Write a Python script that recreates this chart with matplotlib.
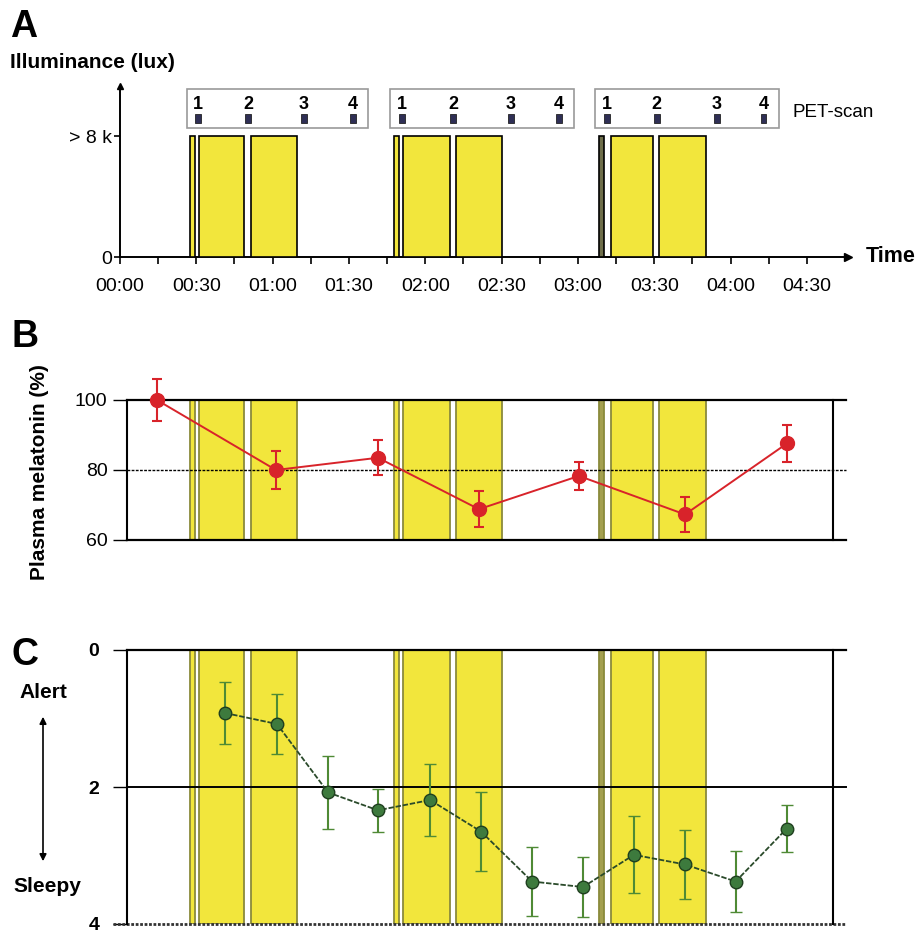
import matplotlib
matplotlib.use("Agg")
import matplotlib.pyplot as plt
from matplotlib.patches import Rectangle
from matplotlib.ticker import MultipleLocator

plt.rcParams['font.family'] = ['Liberation Sans', 'DejaVu Sans']

# ---------------- data ----------------
# light exposure periods (minutes after 00:00)
light_start = [27.5, 31.0, 51.5, 107.7, 111.2, 132.0, 188.3, 193.0, 211.9]
light_end = [29.5, 48.7, 69.6, 109.7, 129.7, 150.2, 190.3, 209.5, 230.3]
light_level = [8, 8, 8, 8, 8, 8, 8, 8, 8]  # > 8 k lux

# PET scans (minutes)
pet_times = [30.7, 50.3, 72.3, 91.6, 110.8, 130.9, 153.7, 172.6, 191.4, 211.0, 234.7, 253.0]
pet_labels = ["1", "2", "3", "4", "1", "2", "3", "4", "1", "2", "3", "4"]
pet_groups = [0, 0, 0, 0, 1, 1, 1, 1, 2, 2, 2, 2]

# x tick labels panel A
time_ticks = [0, 30, 60, 90, 120, 150, 180, 210, 240, 270]
time_labels = ["00:00", "00:30", "01:00", "01:30", "02:00", "02:30",
               "03:00", "03:30", "04:00", "04:30"]
minor_ticks = [15, 45, 75, 105, 135, 165, 195, 225, 255]

# panel B: plasma melatonin (%)
mel_t = [14.5, 61.3, 101.4, 141.1, 180.4, 222.1, 262.2]
mel_v = [100.0, 80.0, 83.5, 68.8, 78.3, 67.3, 87.6]
mel_e = [6.0, 5.5, 5.0, 5.2, 4.0, 5.0, 5.3]

# panel C: sleepiness
slp_t = [41.3, 61.7, 81.8, 101.4, 121.9, 141.9, 162.0, 182.0, 202.0, 222.0, 242.0, 262.0]
slp_v = [0.92, 1.08, 2.08, 2.34, 2.19, 2.65, 3.38, 3.46, 2.99, 3.13, 3.38, 2.61]
slp_e = [0.45, 0.44, 0.53, 0.31, 0.52, 0.58, 0.51, 0.44, 0.56, 0.50, 0.44, 0.34]

# ---------------- style ----------------
W, H = 920, 933
YELLOW = '#f2e63c'
OLIVE = '#8a8a3c'
RED = '#d8232a'
GREEN = '#3d7a3d'
thin_face = [YELLOW, YELLOW, YELLOW, YELLOW, YELLOW, YELLOW, '#6e6e4a', YELLOW, YELLOW]
thin_face_bc = [YELLOW, YELLOW, YELLOW, YELLOW, YELLOW, YELLOW, '#a4a050', YELLOW, YELLOW]

fig = plt.figure(figsize=(W / 100, H / 100), dpi=100)


def rect(left, right, top, bottom):
    return [left / W, 1 - bottom / H, (right - left) / W, (bottom - top) / H]


PXMIN = 2.544  # pixels per minute
x0_px = 120
PXY = 15.125   # pixels per unit in panel A

# ---------------- panel A ----------------
axA = fig.add_axes(rect(120, 848, 86, 257))
ymaxA = (257 - 86) / PXY
axA.set_xlim(0, (848 - 120) / PXMIN)
axA.set_ylim(0, ymaxA)
for s in ['top', 'right']:
    axA.spines[s].set_visible(False)
axA.spines['left'].set_linewidth(1.4)
axA.spines['bottom'].set_linewidth(1.4)
axA.plot(1, 0, '>k', ms=6, transform=axA.get_yaxis_transform(), clip_on=False)
axA.plot(0, 1, '^k', ms=5, transform=axA.get_xaxis_transform(), clip_on=False)

for i, (s, e) in enumerate(zip(light_start, light_end)):
    axA.bar(s, light_level[i], width=e - s, align='edge', facecolor=thin_face[i],
            edgecolor='black', linewidth=1.2, zorder=3)

axA.set_xticks(time_ticks)
axA.set_xticklabels(time_labels)
axA.set_xticks(minor_ticks, minor=True)
axA.tick_params(axis='x', which='both', direction='out', length=5, width=1.2,
                labelsize=14, pad=10)
axA.set_yticks([0, 8])
axA.set_yticklabels(['0', '> 8 k'])
axA.tick_params(axis='y', direction='out', length=4, width=1.2, labelsize=14, pad=2)

# PET boxes
for g in range(3):
    ts = [t for t, gg in zip(pet_times, pet_groups) if gg == g]
    b0 = ts[0] - 4.5
    b1 = ts[-1] + 6.0
    axA.add_patch(Rectangle((b0, (257 - 128) / PXY), b1 - b0, (128 - 89) / PXY,
                            facecolor='white', edgecolor='#9a9a9a', linewidth=1.2,
                            clip_on=False, zorder=4))
for t, lab in zip(pet_times, pet_labels):
    axA.text(t, (257 - 104) / PXY, lab, ha='center', va='center', fontsize=13,
             fontweight='bold', zorder=5, clip_on=False)
    axA.bar(t - 1.1, 0.6, width=2.2, bottom=(257 - 123) / PXY, align='edge',
            facecolor='#2f2f55', edgecolor='#222222', linewidth=0.6, zorder=5,
            clip_on=False)
axA.text((793 - 120) / PXMIN, (257 - 112) / PXY, 'PET-scan', ha='left', va='center',
         fontsize=13.5, clip_on=False)
axA.text((866 - 120) / PXMIN, 0, 'Time', ha='left', va='center', fontsize=15.5,
         fontweight='bold', clip_on=False)

fig.text(10 / W, 1 - 63 / H, 'Illuminance (lux)', ha='left', va='center',
         fontsize=15, fontweight='bold')
fig.text(10 / W, 1 - 27 / H, 'A', ha='left', va='center', fontsize=27, fontweight='bold')


# ---------------- helper for B / C ----------------
def light_spans(ax):
    for i, (s, e) in enumerate(zip(light_start, light_end)):
        ax.axvspan(s, e, facecolor=thin_face_bc[i], edgecolor=OLIVE, linewidth=1.3,
                   zorder=1)


xl = (127 - x0_px) / PXMIN
xr = (833 - x0_px) / PXMIN
x_ext_l = (113 - x0_px) / PXMIN
x_ext_r = (846 - x0_px) / PXMIN

# ---------------- panel B ----------------
axB = fig.add_axes(rect(127, 833, 400, 540))
axB.set_xlim(xl, xr)
axB.set_ylim(60, 100)
for s in ['top', 'bottom']:
    axB.spines[s].set_visible(False)
for s in ['left', 'right']:
    axB.spines[s].set_linewidth(1.5)
axB.set_xticks([])
axB.set_yticks([60, 80, 100])
axB.tick_params(axis='y', direction='out', length=10, width=1.0, labelsize=14, pad=4)
light_spans(axB)
axB.plot([xl, x_ext_r], [100, 100], color='black', lw=1.6, clip_on=False, zorder=2)
axB.plot([xl, x_ext_r], [60, 60], color='black', lw=1.6, clip_on=False, zorder=2)
axB.plot([xl, x_ext_r], [80, 80], color='black', lw=1.0, ls=(0, (2, 1)), clip_on=False,
         zorder=2)
axB.errorbar(mel_t, mel_v, yerr=mel_e, fmt='-o', color=RED, ecolor=RED, ms=10,
             lw=1.4, elinewidth=1.5, capsize=3.5, capthick=1.5, zorder=5, clip_on=False)
fig.text(40 / W, 1 - 472 / H, 'Plasma melatonin (%)', rotation=90, ha='center',
         va='center', fontsize=15, fontweight='bold')
fig.text(12 / W, 1 - 337 / H, 'B', ha='left', va='center', fontsize=27, fontweight='bold')

# ---------------- panel C ----------------
axC = fig.add_axes(rect(127, 833, 650, 924))
axC.set_xlim(xl, xr)
axC.set_ylim(4, 0)
for s in ['top', 'bottom']:
    axC.spines[s].set_visible(False)
for s in ['left', 'right']:
    axC.spines[s].set_linewidth(1.5)
axC.set_xticks([])
axC.set_yticks([0, 2, 4])
axC.tick_params(axis='y', direction='out', length=10, width=1.0, labelsize=14, pad=10)
for lab in axC.get_yticklabels():
    lab.set_fontweight('bold')
light_spans(axC)
axC.plot([xl, x_ext_r], [0, 0], color='black', lw=1.6, clip_on=False, zorder=2)
axC.plot([xl, x_ext_r], [2, 2], color='black', lw=1.4, clip_on=False, zorder=2)
axC.plot([x_ext_l, x_ext_r], [4, 4], color='#333333', lw=2.0, ls=(0, (1, 0.6)),
         clip_on=False, zorder=2)
axC.errorbar(slp_t, slp_v, yerr=slp_e, fmt='o', color=GREEN, ecolor='#4f8a35', ms=9,
             mec='#1f3f1f', mew=1.0, elinewidth=1.5, capsize=4, capthick=1.3, zorder=5,
             clip_on=False)
axC.plot(slp_t, slp_v, color='#2a4a2a', lw=1.3, ls=(0, (3, 1)), zorder=4)

fig.text(12 / W, 1 - 655 / H, 'C', ha='left', va='center', fontsize=27, fontweight='bold')
fig.text(43 / W, 1 - 693 / H, 'Alert', ha='center', va='center', fontsize=15,
         fontweight='bold')
fig.text(47 / W, 1 - 887 / H, 'Sleepy', ha='center', va='center', fontsize=15,
         fontweight='bold')
fig.patches.append(matplotlib.patches.FancyArrowPatch(
    (43 / W, 1 - 714 / H), (43 / W, 1 - 864 / H), transform=fig.transFigure,
    arrowstyle='<|-|>', mutation_scale=10, color='black', lw=1.2))

fig.savefig('out.png', dpi=100)
